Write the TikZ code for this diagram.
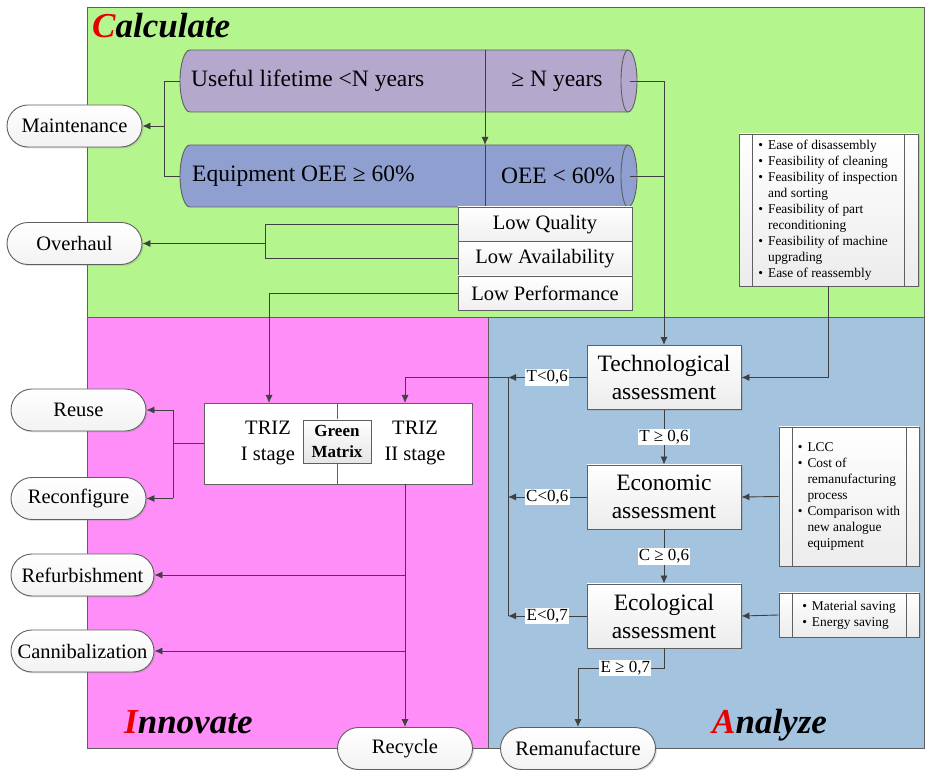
\documentclass[tikz,border=0pt]{standalone}
\usepackage{fontspec}
\setmainfont{Liberation Serif}
\usetikzlibrary{arrows.meta,shadows}

\definecolor{calcgreen}{RGB}{181,245,141}
\definecolor{innopink}{RGB}{255,142,248}
\definecolor{analblue}{RGB}{163,195,222}
\definecolor{lifepurple}{RGB}{180,168,204}
\definecolor{oeeblue}{RGB}{143,160,208}
\definecolor{wire}{RGB}{64,64,64}
\definecolor{frame}{RGB}{95,95,95}
\definecolor{titlered}{RGB}{230,0,0}

\tikzset{
  conn/.style={draw=wire, line width=0.9pt},
  arr/.style={conn, -{Latex[length=8pt,width=7pt]}},
  softshadow/.style={drop shadow={shadow xshift=1.5pt, shadow yshift=-1.5pt, opacity=0.25}},
  pill/.style={draw=frame, line width=0.9pt, rounded corners=21pt, minimum height=42pt,
    inner sep=0pt, top color=white, bottom color=gray!10, softshadow,
    font=\fontsize{20.5}{24}\selectfont},
  lowbox/.style={draw=frame, line width=0.8pt, top color=white, bottom color=gray!12,
    minimum width=174pt, minimum height=34.5pt, inner sep=0pt,
    font=\fontsize{20.5}{24}\selectfont},
  assess/.style={draw=frame, line width=0.9pt, top color=white, bottom color=gray!15,
    minimum width=154pt, minimum height=64pt, inner sep=0pt, align=center, softshadow,
    font=\fontsize{23.5}{28}\selectfont},
  cond/.style={fill=white, inner sep=1.2pt, font=\fontsize{17}{20}\selectfont},
  listbox/.style={draw=frame, line width=0.9pt, top color=white, bottom color=gray!15,
    inner sep=0pt, softshadow},
  listtext/.style={inner sep=0pt, align=left},
  region/.style={draw=frame, line width=0.9pt},
  cylline/.style={draw=frame, line width=0.9pt},
  title/.style={font=\fontsize{35}{40}\selectfont\bfseries\itshape, anchor=base west, inner sep=0pt},
  cyltext/.style={font=\fontsize{23.5}{28}\selectfont, inner sep=0pt},
  trizbox/.style={draw=frame, line width=0.9pt, fill=white, minimum width=268pt,
    minimum height=81pt, inner sep=0pt},
  trizlabel/.style={align=center, inner sep=0pt, font=\fontsize{20.5}{26}\selectfont},
  matrixbox/.style={draw=frame, line width=0.8pt, top color=white, bottom color=gray!20,
    minimum width=68pt, minimum height=43pt, inner sep=0pt, align=center,
    font=\fontsize{17}{21}\selectfont\bfseries},
}

\newcommand\listfont{\fontsize{13.4}{16}\selectfont}

\begin{document}
\begin{tikzpicture}[x=1pt,y=1pt]
\useasboundingbox (0,0) rectangle (927,769);

% ---------- phase areas ----------
\draw[region, fill=calcgreen] (87,452) rectangle (924,762);
\draw[region, fill=innopink] (87,21) rectangle (488,452);
\draw[region, fill=analblue] (488,21) rectangle (924,452);

\node[title] (calcT) at (92,731) {\textcolor{titlered}{C}alculate};
\node[title] (innoT) at (124,35) {\textcolor{titlered}{I}nnovate};
\node[title] (analT) at (712,35) {\textcolor{titlered}{A}nalyze};

% ---------- lifetime cylinder ----------
\draw[cylline, fill=lifepurple] (190,719) -- (628,719)
  arc[start angle=90, end angle=-90, x radius=9, y radius=31] -- (190,657)
  arc[start angle=270, end angle=90, x radius=10, y radius=31] -- cycle;
\draw[cylline] (628,719) arc[start angle=90, end angle=270, x radius=7, y radius=31];

% ---------- OEE cylinder ----------
\draw[cylline, fill=oeeblue] (190,624) -- (628,624)
  arc[start angle=90, end angle=-90, x radius=9, y radius=31] -- (190,562)
  arc[start angle=270, end angle=90, x radius=10, y radius=31] -- cycle;
\draw[cylline] (628,624) arc[start angle=90, end angle=270, x radius=7, y radius=31];

\node[cyltext, anchor=west] (lifeLow) at (191,688) {Useful lifetime <N years};
\node[cyltext] (lifeHigh) at (557,688) {≥ N years};
\node[cyltext, anchor=west] (oeeHigh) at (192,593) {Equipment OEE ≥ 60\%};
\node[cyltext] (oeeLow) at (558,593) {OEE < 60\%};

\coordinate (lifeSplitTop) at (485,719);
\coordinate (oeeSplitTop) at (485,624);
\coordinate (oeeSplitBot) at (485,562);
\coordinate (lifeW) at (180,688);
\coordinate (oeeW) at (180,593);
\coordinate (lifeE) at (630,688);
\coordinate (oeeE) at (630,593);

\draw[arr] (lifeSplitTop) -- (oeeSplitTop);
\draw[conn] (oeeSplitTop) -- (oeeSplitBot);

% ---------- OEE losses ----------
\node[lowbox] (lowQ) at (545,544.75) {Low Quality};
\node[lowbox] (lowA) at (545,510.25) {Low Availability};
\node[lowbox] (lowP) at (545,475.75) {Low Performance};

% ---------- outcome pills ----------
\node[pill, minimum width=135pt] (maint) at (74.5,643) {Maintenance};
\node[pill, minimum width=135pt] (overhaul) at (74.5,525.5) {Overhaul};
\node[pill, minimum width=135pt] (reuse) at (78.5,359) {Reuse};
\node[pill, minimum width=135pt] (reconf) at (78.5,270.5) {Reconfigure};
\node[pill, minimum width=143pt] (refurb) at (82.5,194) {Refurbishment};
\node[pill, minimum width=143pt] (cannib) at (82.5,118) {Cannibalization};
\node[pill, minimum width=135pt] (recycle) at (405,20.5) {Recycle};
\node[pill, minimum width=155pt] (reman) at (578,20.5) {Remanufacture};

% ---------- calculate connectors ----------
\coordinate (mBusTop) at (164,688);
\coordinate (mBusBot) at (164,593);
\coordinate (mBus) at (164,643);
\draw[conn] (lifeW) -- (mBusTop) -- (mBusBot) -- (oeeW);
\draw[arr] (mBus) -- (maint.east);

\coordinate (oBusTop) at (265,544.75);
\coordinate (oBusBot) at (265,510.25);
\coordinate (oBus) at (265,525.5);
\draw[conn] (lowQ.west) -- (oBusTop) -- (oBusBot) -- (lowA.west);
\draw[arr] (oBus) -- (overhaul.east);

% ---------- TRIZ block ----------
\node[trizbox] (triz) at (338,325.5) {};
\draw[conn, line width=0.8pt, draw=frame] (337,366) -- (337,285);
\node[matrixbox] (gm) at (337,327.5) {Green\\Matrix};
\node[trizlabel] (triz1) at (268,326) {TRIZ\\I stage};
\node[trizlabel] (triz2) at (415,326) {TRIZ\\II stage};

\coordinate (trizInA) at (269,366);
\coordinate (trizInB) at (405,366);
\coordinate (trizOut) at (405,285);
\draw[arr] (lowP.west) -| (trizInA);

\coordinate (rBus) at (173,325.5);
\coordinate (rBusTop) at (173,359);
\coordinate (rBusBot) at (173,270.5);
\draw[conn] (triz.west) -- (rBus);
\draw[conn] (rBusTop) -- (rBusBot);
\draw[arr] (rBusTop) -- (reuse.east);
\draw[arr] (rBusBot) -- (reconf.east);

\coordinate (cBusA) at (405,194);
\coordinate (cBusB) at (405,118);
\draw[arr] (trizOut) -- (recycle.north);
\draw[arr] (cBusA) -- (refurb.east);
\draw[arr] (cBusB) -- (cannib.east);

% ---------- assessments ----------
\node[assess] (tech) at (664,391.5) {Technological\\assessment};
\node[assess] (econ) at (664,272) {Economic\\assessment};
\node[assess] (ecol) at (664,153) {Ecological\\assessment};

\coordinate (aBusTop) at (664,688);
\coordinate (aBusMid) at (664,593);
\draw[conn] (lifeE) -- (aBusTop) -- (aBusMid);
\draw[conn] (oeeE) -- (aBusMid);
\draw[arr] (aBusMid) -- (tech.north);

\draw[arr] (tech.south) -- node[cond] {T ≥ 0,6} (econ.north);
\draw[arr] (econ.south) -- node[cond] {C ≥ 0,6} (ecol.north);

% feedback to the TRIZ stage
\coordinate (fbTop) at (508,391.5);
\coordinate (fbMid) at (508,272);
\coordinate (fbBot) at (508,153);
\coordinate (fbTurn) at (405,391.5);
\draw[conn] (fbTop) -- (fbBot);
\draw[arr] (tech.west) -- node[cond] {T<0,6} (fbTop);
\draw[arr] (econ.west) -- node[cond] {C<0,6} (fbMid);
\draw[arr] (ecol.west) -- node[cond] {E<0,7} (fbBot);
\draw[arr] (fbTop) -- (fbTurn) -- (trizInB);

% pass to remanufacture
\coordinate (eDown) at (664,101);
\coordinate (eTurn) at (578,101);
\draw[conn] (ecol.south) -- (eDown) -- node[cond, pos=0.45] {E ≥ 0,7} (eTurn);
\draw[arr] (eTurn) -- (reman.north);

% ---------- criteria lists ----------
\node[listbox, minimum width=179pt, minimum height=152pt] (crit) at (828.5,559) {};
\draw[cylline, line width=0.8pt] (752,635) -- (752,483);
\draw[cylline, line width=0.8pt] (904,635) -- (904,483);
\node[listtext] (critText) at (828,559) {\listfont
  \begin{tabular}{@{}c@{\hspace{5pt}}l@{}}
  \textbullet & Ease of disassembly\\
  \textbullet & Feasibility of cleaning\\
  \textbullet & Feasibility of inspection\\
              & and sorting\\
  \textbullet & Feasibility of part\\
              & reconditioning\\
  \textbullet & Feasibility of machine\\
              & upgrading\\
  \textbullet & Ease of reassembly
  \end{tabular}};
\draw[arr] (crit.south) |- (tech.east);

\node[listbox, minimum width=140pt, minimum height=139pt] (cost) at (849,272.5) {};
\draw[cylline, line width=0.8pt] (792,342) -- (792,203);
\draw[cylline, line width=0.8pt] (906,342) -- (906,203);
\node[listtext] (costText) at (849,273) {\listfont
  \begin{tabular}{@{}c@{\hspace{5pt}}l@{}}
  \textbullet & LCC\\
  \textbullet & Cost of\\
              & remanufacturing\\
              & process\\
  \textbullet & Comparison with\\
              & new analogue\\
              & equipment
  \end{tabular}};
\draw[arr] (cost.west) -- (econ.east);

\node[listbox, minimum width=140pt, minimum height=44pt] (save) at (849,154) {};
\draw[cylline, line width=0.8pt] (792,176) -- (792,132);
\draw[cylline, line width=0.8pt] (906,176) -- (906,132);
\node[listtext] (saveText) at (849,154) {\listfont
  \begin{tabular}{@{}c@{\hspace{5pt}}l@{}}
  \textbullet & Material saving\\
  \textbullet & Energy saving
  \end{tabular}};
\draw[arr] (save.west) -- (ecol.east);

\end{tikzpicture}
\end{document}
